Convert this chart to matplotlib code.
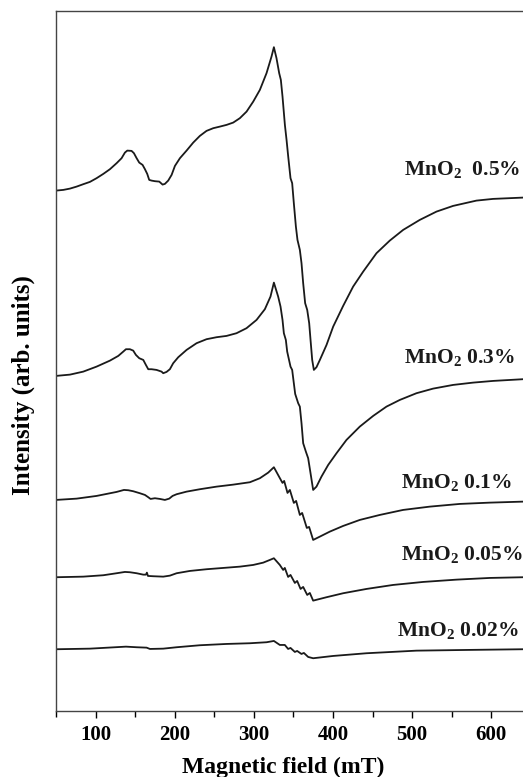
import matplotlib.pyplot as plt
from matplotlib.ticker import MultipleLocator

plt.rcParams['font.family'] = 'Liberation Serif'
plt.rcParams['font.weight'] = 'bold'
plt.rcParams['mathtext.fontset'] = 'custom'
plt.rcParams['mathtext.rm'] = 'Liberation Serif:bold'
plt.rcParams['mathtext.default'] = 'rm'

# EPR spectra, stacked with a vertical offset (arb. units)
field_05 = [50, 59.3, 67.7, 76.1, 84.5, 92.9, 101.3, 109.8, 118.2, 126.6, 132.9, 137.1,
            140.1, 145.5, 148.5, 151.9, 155.2, 159.4, 162.4, 165.3, 167.8, 170.8, 175,
            180.5, 184.7, 187.6, 191.8, 196.1, 200.3, 206.6, 215, 223.4, 231.8, 240.2,
            248.7, 257.1, 265.5, 273.9, 282.3, 290.8, 299.2, 307.6, 316, 322.3, 325.3,
            328.6, 332, 334.1, 336.2, 339.2, 341.3, 343.4, 346.3, 348.4, 350.5, 353.1,
            355.1, 358.1, 360.2, 362.3, 364.8, 367.4, 369.9, 371.6, 373.7, 375.8, 379.1,
            383.4, 391.8, 400.2, 412.8, 425.4, 438.1, 454.9, 471.7, 488.6, 509.6, 530.7,
            551.7, 581.2, 602.2, 639.7]
int_05 = [520.3, 521, 522.3, 524.3, 526.7, 529, 532.7, 537, 541.7, 547.7, 552.7, 558.3,
          560.3, 560, 557.7, 552.7, 548.3, 546, 541.7, 537, 531, 530.3, 529.7,
          529.3, 526.3, 527, 530.3, 536, 545, 552.7, 560.3, 568.3, 575, 580,
          582.7, 584.3, 586, 588.3, 592.7, 599.3, 609.3, 621, 637.7, 654.3, 663.7,
          652.7, 637.7, 631, 614.3, 586, 571, 554.3, 532.7, 527.7, 507.7, 484.3,
          471, 461, 447.7, 427.7, 407.7, 401, 387.7, 371, 351, 341, 343.7,
          351, 366, 384.3, 405, 424.3, 439.3, 457.7, 470.3, 481, 491, 499.3,
          505, 510.3, 512, 513.3]

field_03 = [50, 67.7, 84.5, 101.3, 118.2, 128.7, 135, 138.4, 143.4, 147.6, 151, 155.2,
            160.3, 163.6, 166.6, 170.8, 177.1, 183.4, 185.5, 189.7, 193.9, 198.1, 204.5,
            215, 227.6, 240.2, 252.9, 265.5, 278.1, 290.7, 303.4, 313.9, 321, 325.3,
            330.7, 333.7, 336.2, 337.9, 340.4, 342.1, 346.3, 348.4, 350.5, 352.2, 356,
            358.1, 360.2, 362.3, 365.7, 368.6, 371.6, 374.9, 379.1, 385.4, 393.9, 404.4,
            417, 433.8, 450.7, 467.5, 484.4, 505.4, 526.4, 551.7, 576.9, 602.2, 639.7]
int_03 = [335, 336.3, 339.3, 344.3, 350.3, 355, 359.3, 361.7, 361.7, 360.3, 356, 352.7,
          351, 346, 341.7, 341.7, 341, 339.3, 337.7, 339, 341.7, 347.7, 353.7,
          361, 367.7, 371.7, 373.7, 375, 377.7, 382.7, 391, 401.7, 414.3, 428.3,
          414.3, 404.3, 391, 377.7, 371, 359.3, 344.3, 341, 327.7, 317, 307.7,
          304.3, 287.7, 267.7, 259.3, 252.7, 237.7, 221, 224.3, 234.3, 246, 257.7,
          271, 284.3, 295, 304.3, 311, 317.7, 322.3, 326, 328.3, 330, 331.7]

field_01 = [50, 76.1, 101.3, 126.6, 135.9, 141.3, 147.6, 156, 162.4, 166.6, 169.5, 175,
            181.3, 187.6, 193.1, 197.3, 202.4, 215, 231.8, 252.9, 273.9, 295, 307.6,
            318.1, 325.3, 332, 336.2, 338.3, 342.5, 345.5, 350.5, 353.4, 358.1, 361,
            366.9, 369.8, 374.9, 383.3, 395.9, 412.8, 433.8, 459.1, 488.5, 522.2, 560.1,
            598, 639.6]
int_01 = [211, 212.3, 215, 219, 221, 220.7, 219.7, 217.7, 216, 213.7, 212, 212.7,
          212, 211, 212.3, 215, 216.7, 219.3, 221.7, 224.3, 226.3, 228.7, 232.7,
          238.3, 243.7, 234, 228, 230, 218, 221, 208, 210, 196, 198,
          183, 184, 171, 174.3, 179.3, 185, 191, 196, 201, 204.3, 207,
          208.3, 209.3]

field_005 = [50, 84.5, 109.8, 126.6, 137.1, 143.4, 151.9, 160.3, 163.6, 164.9, 166.2,
             172.9, 185.5, 193.9, 202.4, 219.2, 240.2, 261.3, 282.3, 299.2, 311.8, 320.2,
             325.3, 332.8, 337, 339.1, 343.3, 346.3, 351.8, 354.7, 359, 362.3, 367.4,
             370.7, 374.9, 391.7, 412.8, 442.3, 475.9, 513.8, 555.9, 598, 639.6]
int_005 = [133.7, 134.3, 135.7, 137.7, 139, 138.7, 137.7, 136.3, 136.3, 138.3, 135,
           134.7, 134.3, 135.3, 137.7, 140, 141.7, 143, 144.3, 146, 148.3, 151,
           152.7, 146, 141, 143, 134, 136, 128, 130, 122, 124, 116,
           118, 110.3, 113.7, 117.7, 122, 126, 129, 131.3, 133, 133.7]

field_002 = [50, 92.9, 138.4, 151.9, 164.5, 168.7, 185.5, 202.4, 231.8, 265.5, 295, 316,
             325.3, 332.8, 339.1, 343.3, 346.3, 351.8, 354.7, 360.1, 363.2, 368.6, 374.9,
             400.2, 442.3, 505.4, 568.5, 639.6]
int_002 = [61.7, 62.3, 64.3, 63.7, 63.3, 62, 62.3, 63.7, 65.7, 67, 67.7, 68.7,
           70, 66, 66, 62, 63, 59, 60, 57, 58, 54, 52.7,
           55, 57.7, 60.3, 61, 61.7]

labels = ['MnO$_2$  0.5%', 'MnO$_2$ 0.3%', 'MnO$_2$ 0.1%', 'MnO$_2$ 0.05%', 'MnO$_2$ 0.02%']
label_pos = [(636, 536), (630, 348), (626, 223), (640, 151), (634, 75)]

fig = plt.figure(figsize=(5.23, 7.77), dpi=100)
ax = fig.add_axes([0.107, 0.085, 0.893, 0.901])

for f, s in [(field_05, int_05), (field_03, int_03), (field_01, int_01),
             (field_005, int_005), (field_002, int_002)]:
    ax.plot(f, s, color='#1a1a1a', lw=1.3, solid_joinstyle='round')

for lab, (lx, ly) in zip(labels, label_pos):
    ax.text(lx, ly, lab, ha='right', va='baseline', fontsize=15.5, color='#1a1a1a')

ax.set_xlim(50, 640)
ax.set_ylim(0, 700)
ax.xaxis.set_major_locator(MultipleLocator(100))
ax.xaxis.set_minor_locator(MultipleLocator(50))
ax.tick_params(axis='x', which='major', direction='out', length=5, width=1,
               labelsize=15, pad=5)
ax.tick_params(axis='x', which='minor', direction='out', length=4, width=1)
ax.set_yticks([])
ax.spines['right'].set_visible(False)
for sp in ['left', 'top', 'bottom']:
    ax.spines[sp].set_color('#444444')
    ax.spines[sp].set_linewidth(1.0)

ax.set_xlabel('Magnetic field (mT)', fontsize=17, fontweight='bold', va='top')
ax.xaxis.set_label_coords(0.486, -0.066)
ax.set_ylabel('Intensity (arb. units)', fontsize=18, fontweight='bold')
ax.yaxis.set_label_coords(-0.045, 0.466)

fig.savefig('out.png', dpi=100)
